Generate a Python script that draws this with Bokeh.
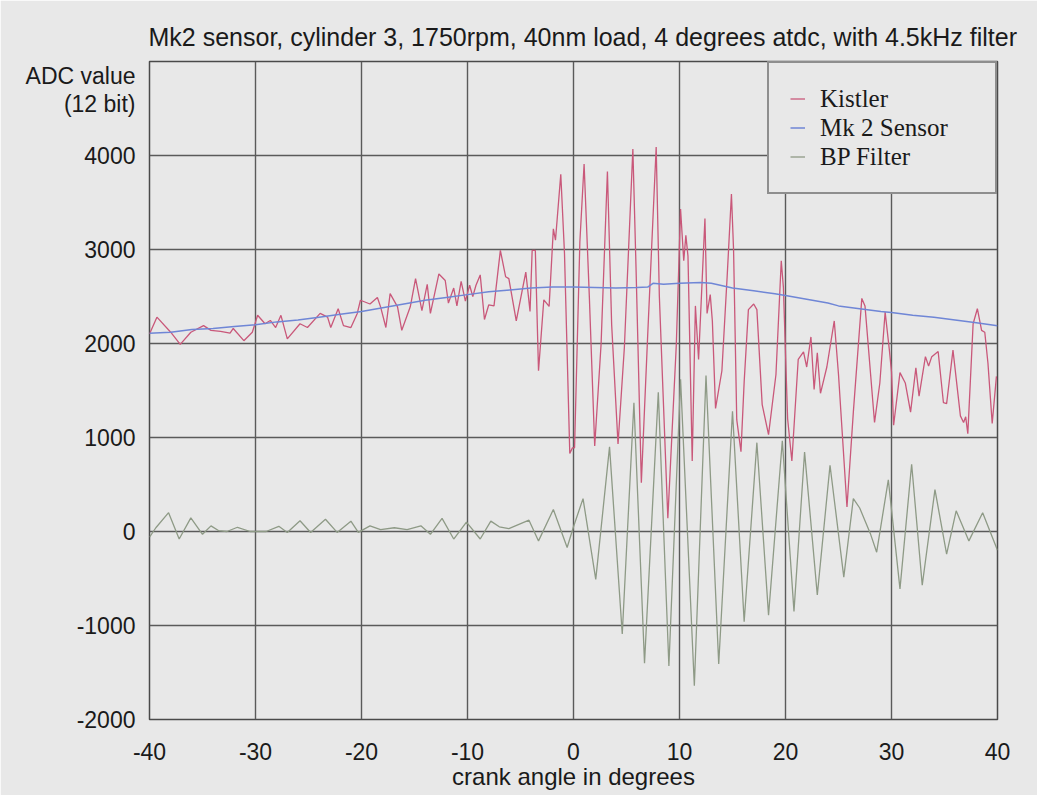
from bokeh.plotting import figure
from bokeh.models import Range1d, FixedTicker, Legend, LegendItem
from bokeh.embed import file_html
from bokeh.resources import INLINE

title_text = "Mk2 sensor, cylinder 3, 1750rpm, 40nm load, 4 degrees atdc, with 4.5kHz filter"
x_label = "crank angle in degrees"
y_label_lines = ["ADC value", "(12 bit)"]
y_label_pos = [4851, 4543]
x_ticks = [-40, -30, -20, -10, 0, 10, 20, 30, 40]
y_ticks = [-2000, -1000, 0, 1000, 2000, 3000, 4000]

kistler_x = [-40.0, -39.3, -38.0, -37.1, -36.1, -34.9, -34.2, -33.3, -32.4, -32.1, -31.1, -30.3,
             -29.8, -29.1, -28.6, -28.1, -27.6, -27.0, -25.8, -25.1, -23.9, -23.2, -22.9, -22.2,
             -21.7, -21.0, -20.4, -20.1, -19.2, -18.5, -18.2, -17.7, -17.3, -16.6, -16.2, -15.4,
             -14.9, -14.3, -13.8, -13.5, -12.7, -12.1, -11.8, -11.3, -11.0, -10.6, -10.2, -9.8,
             -9.5, -9.2, -8.8, -8.4, -8.0, -7.5, -6.9, -6.4, -6.1, -5.4, -4.5, -4.1, -3.9, -3.6,
             -3.3, -2.8, -2.3, -1.9, -1.7, -1.2, -0.85, -0.35, -0.1, 0.1, 0.6, 1.0, 1.5, 2.0,
             2.6, 3.2, 3.6, 4.2, 4.8, 5.6, 5.9, 6.4, 7.0, 7.8, 8.1, 8.9, 9.7, 10.1, 10.4, 10.6,
             10.8, 11.2, 11.5, 11.8, 12.4, 12.6, 12.9, 13.1, 13.4, 14.0, 14.5, 14.9, 15.1, 15.4,
             15.8, 16.1, 16.5, 17.0, 17.3, 17.8, 18.4, 19.1, 19.6, 19.8, 20.2, 20.6, 21.2, 21.7,
             22.0, 22.4, 22.7, 23.0, 23.3, 23.9, 24.6, 25.0, 25.8, 26.4, 27.2, 27.5, 28.4, 28.9,
             29.4, 29.8, 30.0, 30.2, 30.8, 31.3, 31.8, 32.3, 32.6, 33.2, 33.5, 33.8, 34.4, 34.9,
             35.2, 35.8, 36.5, 36.8, 37.0, 37.2, 37.7, 38.1, 38.5, 38.8, 39.1, 39.5, 39.9]
kistler_y = [2100, 2280, 2120, 1990, 2120, 2190, 2140, 2130, 2110, 2160, 2030, 2120,
             2300, 2210, 2245, 2170, 2300, 2050, 2210, 2170, 2320, 2280, 2170, 2370,
             2190, 2170, 2320, 2460, 2420, 2490, 2390, 2170, 2530, 2390, 2140, 2390,
             2690, 2350, 2630, 2320, 2740, 2670, 2430, 2590, 2400, 2660, 2450, 2620,
             2500, 2620, 2730, 2255, 2410, 2400, 2990, 2710, 2690, 2240, 2760, 2340, 2990, 2990,
             1710, 2465, 2395, 3220, 3100, 3800, 2960, 830, 890, 890, 3080, 3910, 2480, 910,
             1990, 3830, 2200, 930, 1960, 4070, 2800, 520, 2090, 4090, 2500, 140, 1990, 3430, 2880, 3150,
             2930, 750, 2400, 1830, 3330, 2320, 2520, 2240, 1310, 1710, 2720, 3590, 3000, 1190,
             850, 1590, 2360, 2420, 2360, 1350, 1030, 1670, 2880, 2600, 1200, 750, 1830, 1910,
             1750, 2070, 1510, 1900, 1470, 1750, 2240, 1670, 260, 1270, 2480, 2400, 1160, 1580,
             2335, 1930, 1700, 1130, 1690, 1580, 1270, 1740, 1440, 1860, 1760, 1860, 1915, 1370,
             1360, 1930, 1230, 1160, 1220, 1040, 2210, 2370, 2140, 2120, 1790, 1150, 1650]

mk2_x = [-40, -38, -36, -34, -32, -30, -28, -26, -24, -22, -20, -18, -16, -14, -12, -10, -8, -6,
         -4, -2, 0, 2, 4, 6, 7, 7.5, 8.5, 10, 12, 13, 15, 17, 19, 20, 22, 24, 25, 27, 29, 30, 32,
         34, 36, 38, 40]
mk2_y = [2110, 2120, 2150, 2160, 2180, 2200, 2230, 2250, 2280, 2310, 2340, 2380, 2420, 2460,
         2490, 2520, 2550, 2570, 2590, 2600, 2600, 2595, 2590, 2595, 2600, 2640, 2630, 2640, 2650,
         2640, 2590, 2560, 2530, 2510, 2470, 2430, 2400, 2370, 2340, 2330, 2300, 2280, 2250, 2220,
         2190]

bp_x = [-40.0, -39.4, -38.2, -37.2, -36.1, -35.0, -34.2, -33.5, -32.7, -31.7, -30.5, -29.0,
        -27.8, -27.0, -25.8, -24.8, -23.4, -22.3, -21.0, -20.3, -19.2, -18.2, -16.9, -15.7,
        -14.4, -13.5, -12.4, -11.3, -10.1, -8.8, -7.8, -7.0, -6.1, -4.2, -3.3, -1.9, -0.6, 0.0,
        0.9, 2.1, 3.4, 4.6, 5.7, 6.7, 8.0, 9.0, 10.1, 11.4, 12.5, 13.7, 15.0, 16.1, 17.3, 18.4,
        19.7, 20.8, 21.8, 23.0, 24.2, 25.5, 26.4, 27.0, 28.0, 28.6, 29.7, 30.8, 31.9, 32.9,
        34.1, 35.2, 36.1, 37.3, 38.6, 40.0]
bp_y = [-60, 40, 200, -80, 145, -30, 60, 10, 0, 45, 0, 0,
        55, -10, 115, -10, 130, -10, 110, -10, 60, 20, 40, 20,
        60, -30, 140, -80, 100, -80, 110, 50, 30, 120, -100, 235, -170, 50,
        350, -510, 900, -1090, 1370, -1400, 1480, -1430, 1620, -1640, 1660, -1410, 1280, -960, 945, -890,
        965, -850, 845, -675, 705, -485, 350, 250, -20, -220, 550, -610, 715, -570,
        445, -240, 220, -100, 200, -200]

BG = "#e8e8e8"
SANS = "Liberation Sans"
INK = "#1a1a1a"

p = figure(width=1037, height=795, x_range=Range1d(-40, 40), y_range=Range1d(-2000, 5000),
           output_backend="svg", toolbar_location=None,
           min_border_left=149, min_border_right=40, min_border_top=61, min_border_bottom=76)
p.background_fill_color = BG
p.border_fill_color = BG
p.outline_line_color = "#4a4a4a"
p.outline_line_width = 1.5

p.title.text = title_text
p.title.text_font = SANS
p.title.text_font_size = "25px"
p.title.text_font_style = "normal"
p.title.text_color = INK
p.title.align = "left"
p.title.vertical_align = "middle"
p.title.offset = -1
p.title.standoff = 20

p.xaxis.ticker = FixedTicker(ticks=x_ticks)
p.xaxis.major_label_overrides = {t: str(t) for t in x_ticks}
p.yaxis.ticker = FixedTicker(ticks=y_ticks + y_label_pos)
y_over = {t: str(t) for t in y_ticks}
for pos, txt in zip(y_label_pos, y_label_lines):
    y_over[pos] = txt
p.yaxis.major_label_overrides = y_over
p.xgrid.ticker = FixedTicker(ticks=x_ticks)
p.ygrid.ticker = FixedTicker(ticks=y_ticks)

for ax in (p.xaxis, p.yaxis):
    ax.axis_line_color = None
    ax.major_tick_line_color = None
    ax.minor_tick_line_color = None
    ax.major_label_text_font = SANS
    ax.major_label_text_font_size = "23px"
    ax.major_label_text_color = INK
p.xaxis.major_label_standoff = 17
p.yaxis.major_label_standoff = 8

p.xaxis.axis_label = x_label
p.xaxis.axis_label_text_font = SANS
p.xaxis.axis_label_text_font_size = "24px"
p.xaxis.axis_label_text_font_style = "normal"
p.xaxis.axis_label_text_color = INK
p.xaxis.axis_label_standoff = 0

p.grid.grid_line_color = "#5a5a5a"
p.grid.grid_line_width = 1.4
p.grid.grid_line_alpha = 1.0

r_bp = p.line(bp_x, bp_y, line_color="#8e9a86", line_width=1.3)
r_k = p.line(kistler_x, kistler_y, line_color="#c9587a", line_width=1.3)
r_mk = p.line(mk2_x, mk2_y, line_color="#6f86d6", line_width=1.5)

legend = Legend(items=[LegendItem(label="Kistler", renderers=[r_k]),
                       LegendItem(label="Mk 2 Sensor", renderers=[r_mk]),
                       LegendItem(label="BP Filter", renderers=[r_bp])],
                location="top_right", margin=0, padding=21, spacing=0,
                label_standoff=15, glyph_width=15, glyph_height=29,
                label_height=29, label_width=154,
                label_text_font="Liberation Serif", label_text_font_size="25px",
                label_text_color=INK,
                border_line_color="#333333", border_line_width=2,
                background_fill_color=BG, background_fill_alpha=1.0)
p.add_layout(legend)

open("out.html", "w").write(file_html(p, INLINE))
